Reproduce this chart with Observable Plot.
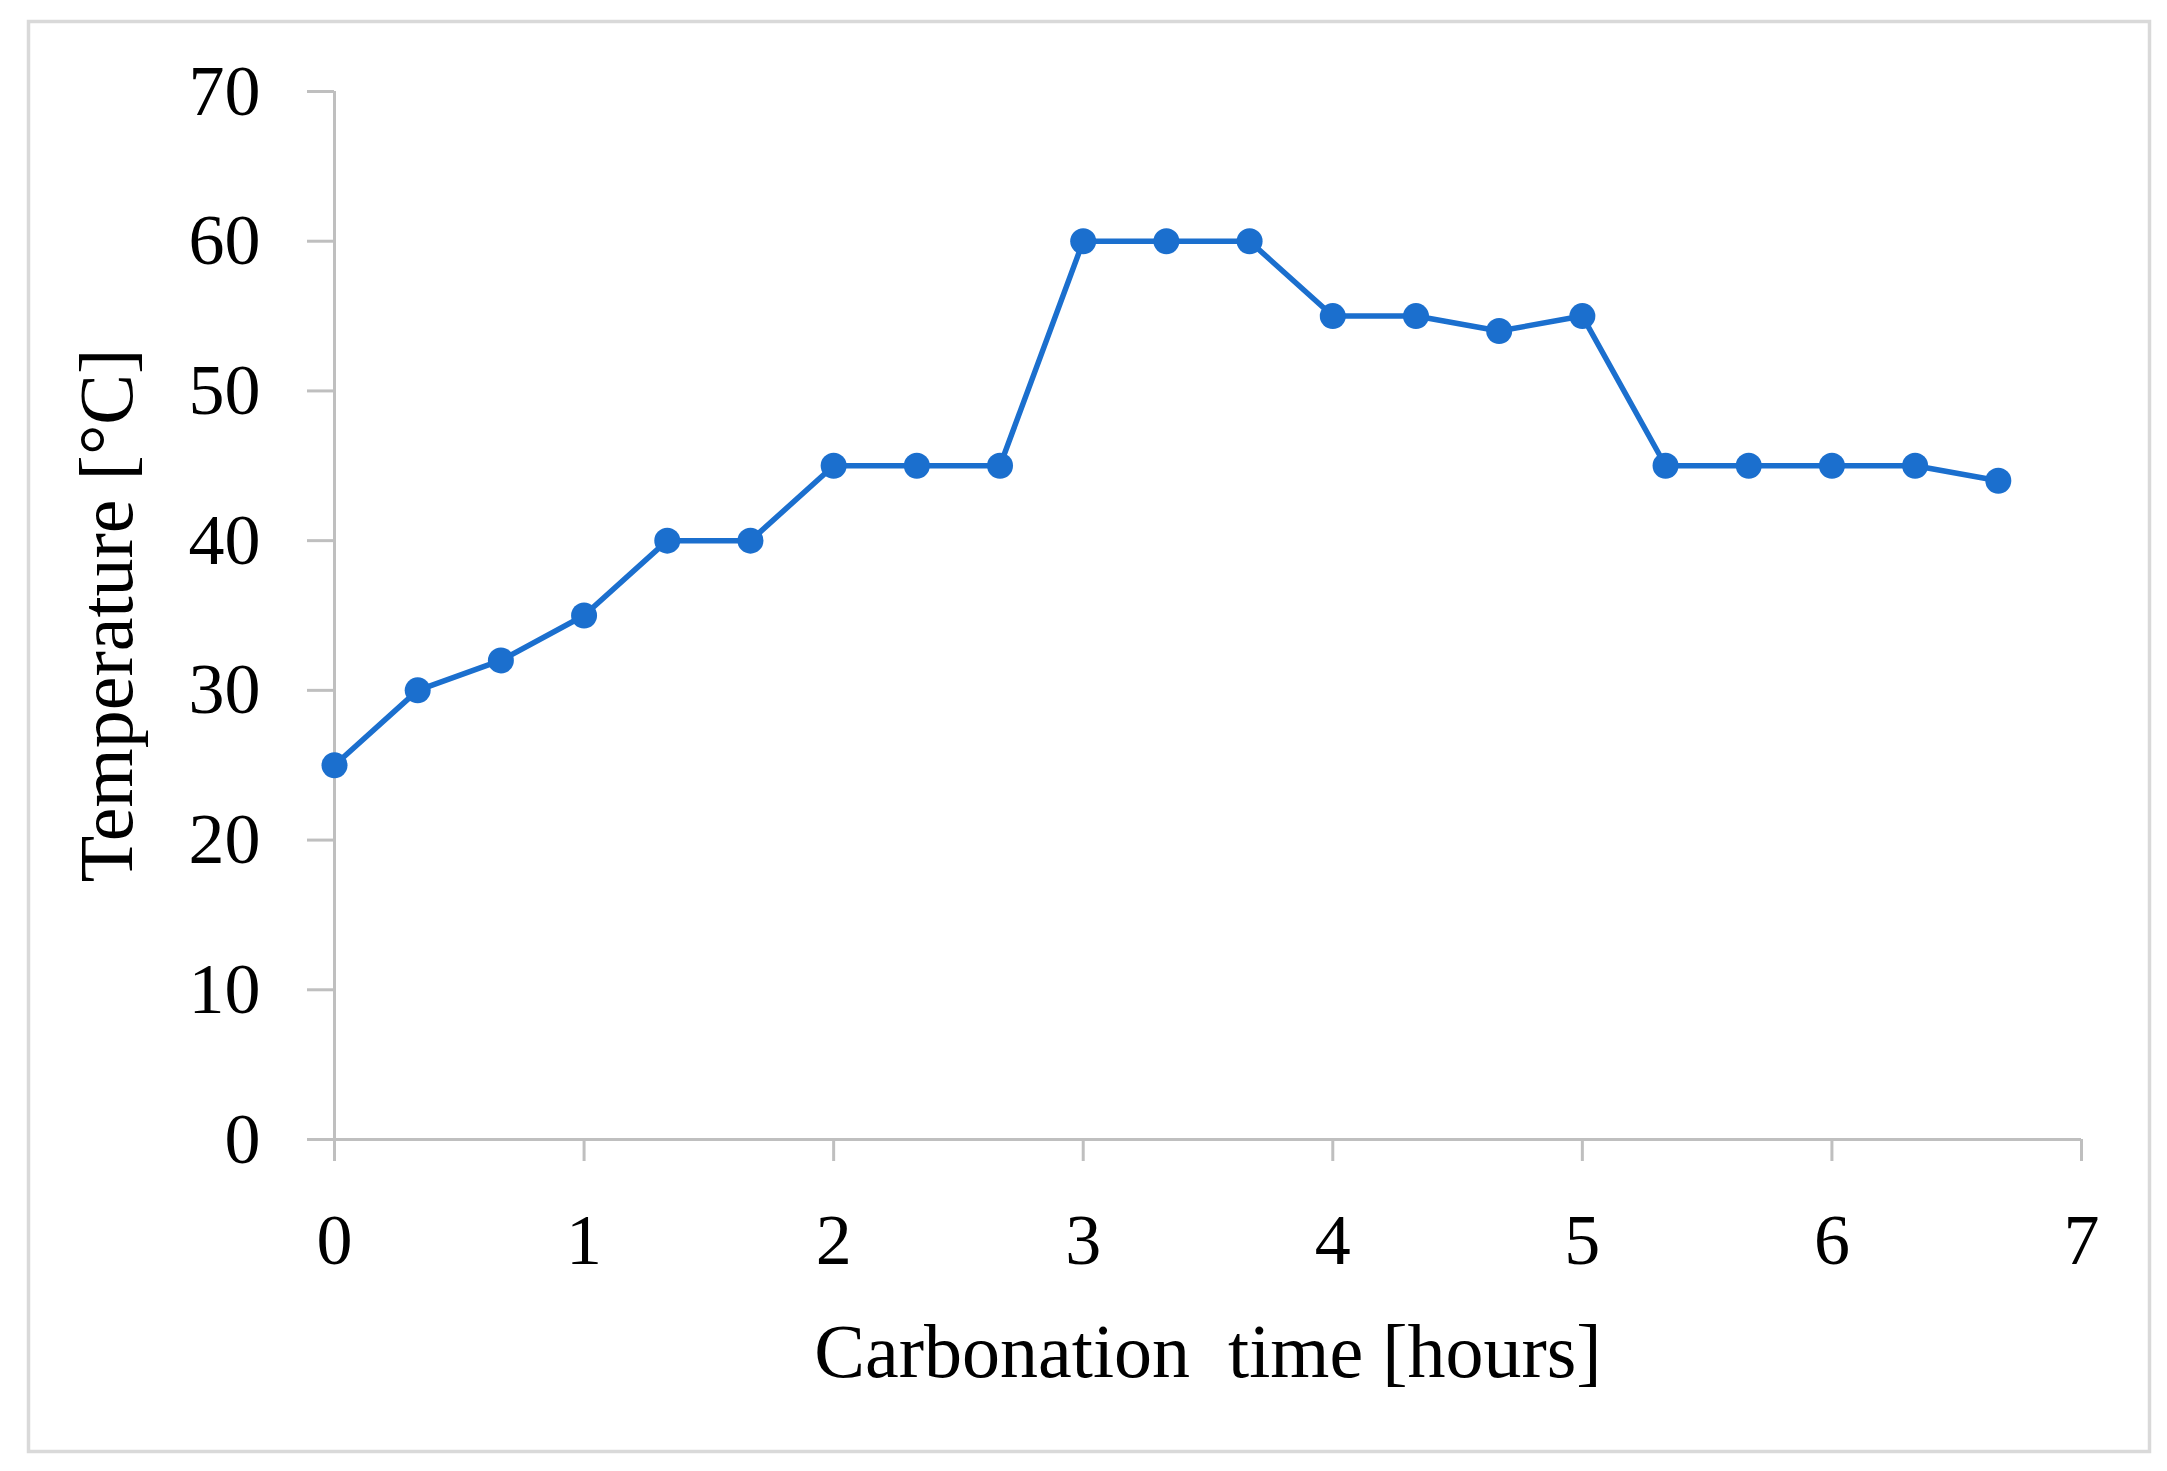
<!DOCTYPE html>
<html>
<head>
<meta charset="utf-8">
<script src="https://cdn.jsdelivr.net/npm/d3@7"></script>
<script src="https://cdn.jsdelivr.net/npm/@observablehq/plot@0.6"></script>
<style>
  html, body { margin: 0; padding: 0; background: #fff; }
  #chart { position: absolute; left: 0; top: 0; }
</style>
</head>
<body>
<div id="chart"></div>
<script>
// Carbonation time in hours (20-minute steps)
const timeHours = [0, 1/3, 2/3, 1, 4/3, 5/3, 2, 7/3, 8/3, 3, 10/3, 11/3, 4, 13/3, 14/3, 5, 16/3, 17/3, 6, 19/3, 20/3];
// Temperature in °C
const temperature = [25, 30, 32, 35, 40, 40, 45, 45, 45, 60, 60, 60, 55, 55, 54, 55, 45, 45, 45, 45, 44];
const xTicks = [0, 1, 2, 3, 4, 5, 6, 7];
const yTicks = [0, 10, 20, 30, 40, 50, 60, 70];
const xLabel = "Carbonation\u00a0\u00a0time [hours]";
const yLabel = "Temperature [°C]";

const data = timeHours.map((t, i) => ({ t, temp: temperature[i] }));

const W = 2167, H = 1471;
const mL = 334, mR = 86, mT = 91, mB = 332;
const blue = "#1b6fce";
const grey = "#bfbfbf";
const font = "'Liberation Serif', serif";

const chart = Plot.plot({
  width: W,
  height: H,
  marginLeft: mL,
  marginRight: mR,
  marginTop: mT,
  marginBottom: mB,
  style: { fontFamily: font, background: "#fff", color: "#000" },
  x: { domain: [0, 7] },
  y: { domain: [0, 70] },
  marks: [
    Plot.frame({ stroke: "#d9d9d9", strokeWidth: 3.5,
      insetLeft: -(mL - 28), insetRight: -(2149 - (W - mR)),
      insetTop: -(mT - 21), insetBottom: -(1451 - (H - mB)) }),
    Plot.axisY({ ticks: yTicks, tickSize: 27, tickPadding: 47, stroke: grey, strokeWidth: 3,
      fontSize: 72, label: yLabel, labelAnchor: "center", labelArrow: "none", labelOffset: 256,
      tickFormat: d => String(d) }),
    Plot.axisX({ ticks: xTicks, tickSize: 22, tickPadding: 51, stroke: grey, strokeWidth: 3,
      fontSize: 72, label: xLabel, labelAnchor: "center", labelArrow: "none", labelOffset: 237,
      tickFormat: d => String(d) }),
    Plot.ruleX([0], { stroke: grey, strokeWidth: 3 }),
    Plot.ruleY([0], { stroke: grey, strokeWidth: 3 }),
    Plot.line(data, { x: "t", y: "temp", stroke: blue, strokeWidth: 5.5 }),
    Plot.dot(data, { x: "t", y: "temp", r: 13, fill: blue, stroke: "none" })
  ]
});
// enlarge axis titles slightly relative to tick labels
chart.querySelectorAll("g[aria-label='x-axis label'] text, g[aria-label='y-axis label'] text")
  .forEach(t => t.setAttribute("font-size", 76));
document.getElementById("chart").appendChild(chart);
</script>
</body>
</html>
